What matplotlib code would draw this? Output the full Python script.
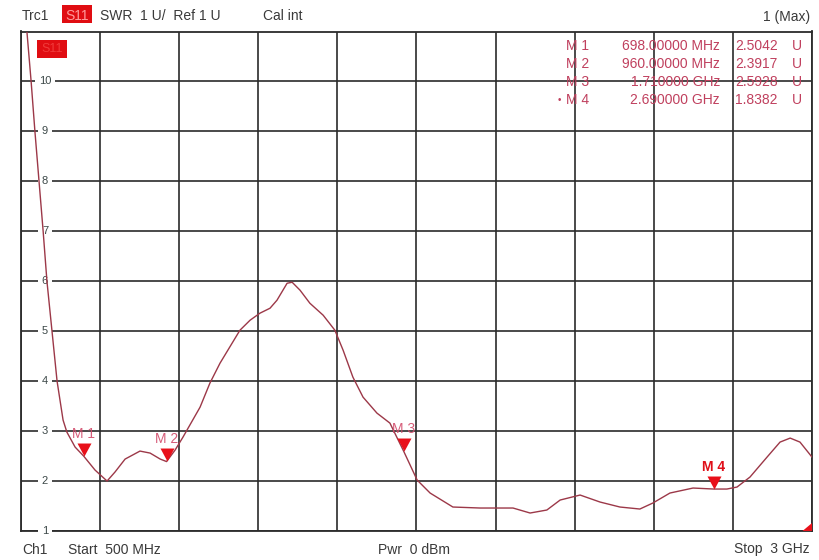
import matplotlib
matplotlib.use("Agg")
import matplotlib.pyplot as plt
from matplotlib.patches import Rectangle, Polygon
from matplotlib.path import Path
import matplotlib.transforms as mtransforms

plt.rcParams['font.family'] = ['Liberation Sans', 'DejaVu Sans']

# ---------------- data ----------------
freq_mhz = [500, 532, 544, 557, 570, 582, 598, 614, 633, 645, 671, 698, 734, 772,
            797, 829, 876, 908, 940, 960, 987, 1012, 1066, 1097, 1129, 1192, 1224,
            1255, 1287, 1309, 1341, 1357, 1382, 1413, 1455, 1492, 1518, 1549, 1581,
            1625, 1666, 1710, 1752, 1793, 1865, 1951, 2055, 2109, 2162, 2204, 2267,
            2330, 2393, 2456, 2497, 2551, 2624, 2690, 2731, 2763, 2804, 2858, 2899,
            2931, 2962, 3000]
swr = [12.4, 10.0, 9.0, 8.0, 7.0, 6.0, 5.0, 4.0, 3.22, 2.98, 2.68, 2.50, 2.22, 2.0,
       2.18, 2.44, 2.60, 2.56, 2.44, 2.39, 2.62, 2.88, 3.48, 3.96, 4.36, 5.02, 5.22,
       5.36, 5.46, 5.62, 5.96, 5.98, 5.82, 5.56, 5.32, 5.02, 4.62, 4.08, 3.68,
       3.36, 3.16, 2.59, 2.02, 1.76, 1.48, 1.46, 1.46, 1.36, 1.42, 1.62, 1.72,
       1.58, 1.48, 1.44, 1.56, 1.76, 1.86, 1.84, 1.84, 1.88, 2.08, 2.48, 2.78,
       2.86, 2.78, 2.48]

marker_names = ["M 1", "M 2", "M 3", "M 4"]
marker_freq = [698, 960, 1710, 2690]
marker_val = [2.5042, 2.3917, 2.5928, 1.8382]
marker_freq_text = ["698.00000 MHz", "960.00000 MHz", "1.710000 GHz", "2.690000 GHz"]
marker_val_text = ["2.5042", "2.3917", "2.5928", "1.8382"]

y_tick_vals = [1, 2, 3, 4, 5, 6, 7, 8, 9, 10]
x_start, x_stop, x_step = 500, 3000, 250
y_min, y_max = 1, 11

# ---------------- figure ----------------
W, H = 820, 560
fig = plt.figure(figsize=(W / 100, H / 100), dpi=100)
fig.patch.set_facecolor("white")

def fx(x):
    return x / W

def fy(y):
    return 1 - y / H

L, R, T, B = 21, 812, 31.5, 531
ax = fig.add_axes([fx(L), fy(B), (R - L) / W, (B - T) / H])
ax.set_xlim(x_start, x_stop)
ax.set_ylim(y_min, y_max)
ax.set_xticks(list(range(x_start, x_stop + 1, x_step)))
ax.set_yticks(list(range(y_min, y_max + 1)))
ax.tick_params(length=0, labelbottom=False, labelleft=False)
grid_col = "#2b2b2b"
ax.grid(True, color=grid_col, linewidth=1.2)
for s in ax.spines.values():
    s.set_color(grid_col)
    s.set_linewidth(1.3)
ax.set_axisbelow(True)

# trace (drawn above the value labels, as on the instrument)
ax.plot(freq_mhz, swr, color="#9c3848", linewidth=1.0, zorder=4.5, clip_on=True)

# y value labels inside the grid
blend = mtransforms.blended_transform_factory(ax.transAxes, ax.transData)
lab_x = (45 - L) / (R - L)
for v in y_tick_vals:
    ax.text(lab_x, v, str(v), transform=blend, ha="center", va="center",
            fontsize=8, color="#3c4848", zorder=4, clip_on=False,
            bbox=dict(boxstyle="square,pad=0.35", facecolor="white", edgecolor="none"))

# marker triangles (tip at the trace value)
tri = Path([(0, 0), (-7, 13), (7, 13), (0, 0)],
           [Path.MOVETO, Path.LINETO, Path.LINETO, Path.CLOSEPOLY])
for i, (f, v) in enumerate(zip(marker_freq, marker_val)):
    ax.plot([f], [v], marker=tri, markersize=18.7, color="#e8101a",
            markeredgewidth=0, linestyle="none", zorder=5)
    if i == 3:
        ax.annotate(marker_names[i], (f, v), xytext=(0, 16), textcoords="offset points",
                    ha="center", va="center", fontsize=10, color="#e0101a",
                    fontweight="bold", zorder=6)
    else:
        ax.annotate(marker_names[i], (f, v), xytext=(0, 16), textcoords="offset points",
                    ha="center", va="center", fontsize=10, color="#d24a6a",
                    alpha=0.9, zorder=6)

# small red corner indicator at bottom-right
ax.add_patch(Polygon([(1.0, 0.0), (1.0, 0.016), (0.988, 0.0)], closed=True,
                     transform=ax.transAxes, facecolor="#e8101a", edgecolor="none",
                     zorder=6, clip_on=False))

# S11 box inside plot
fig.patches.append(Rectangle((fx(37), fy(58)), 30 / W, 18 / H, transform=fig.transFigure,
                             facecolor="#e00d12", edgecolor="none", zorder=5))
fig.text(fx(52), fy(49), "S11", ha="center", va="center", fontsize=9,
         color="#f03a3a", zorder=6)

# header
hdr_col = "#3a3a3a"
base_top = 20.5
fig.text(fx(22), fy(base_top), "Trc1", fontsize=10, color=hdr_col, va="baseline")
fig.patches.append(Rectangle((fx(62), fy(23)), 30 / W, 18 / H, transform=fig.transFigure,
                             facecolor="#e00d12", edgecolor="none", zorder=5))
fig.text(fx(77), fy(base_top), "S11", fontsize=10, color="#ff9a9a", va="baseline",
         ha="center", zorder=6)
fig.text(fx(100), fy(base_top), "SWR  1 U/  Ref 1 U", fontsize=10, color=hdr_col,
         va="baseline")
fig.text(fx(263), fy(base_top), "Cal int", fontsize=10, color=hdr_col, va="baseline")
fig.text(fx(810), fy(base_top), "1 (Max)", fontsize=10, color=hdr_col, va="baseline",
         ha="right")

# footer
base_bot = 553.5
fig.text(fx(22), fy(base_bot), "Ch1", fontsize=10, color=hdr_col, va="baseline")
fig.text(fx(68), fy(base_bot), "Start  500 MHz", fontsize=10, color=hdr_col, va="baseline")
fig.text(fx(414), fy(base_bot), "Pwr  0 dBm", fontsize=10, color=hdr_col, va="baseline",
         ha="center")
fig.text(fx(810), fy(base_bot), "Stop  3 GHz", fontsize=10, color=hdr_col, va="baseline",
         ha="right")

# marker table
tab_col = "#c0405e"
row_y = [46, 64, 82, 100]
for i in range(4):
    y = row_y[i]
    fig.text(fx(566), fy(y), marker_names[i], fontsize=10, color=tab_col,
             va="center", ha="left", zorder=6)
    if i == 3:
        fig.text(fx(561), fy(y), "\u2022", fontsize=7, color=tab_col,
                 va="center", ha="right", zorder=6)
    fig.text(fx(720), fy(y), marker_freq_text[i], fontsize=10, color=tab_col,
             va="center", ha="right", zorder=6)
    fig.text(fx(778), fy(y), marker_val_text[i], fontsize=10, color=tab_col,
             va="center", ha="right", zorder=6)
    fig.text(fx(792), fy(y), "U", fontsize=10, color=tab_col,
             va="center", ha="left", zorder=6)

fig.savefig("out.png", dpi=100, facecolor="white")
